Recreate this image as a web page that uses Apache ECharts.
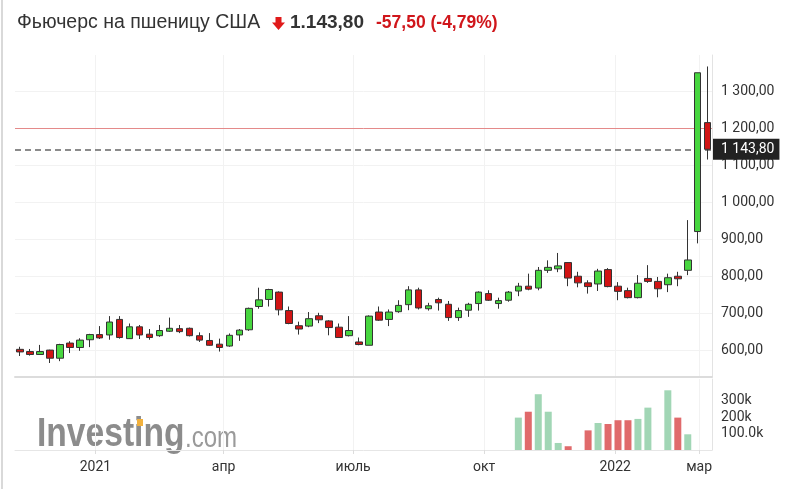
<!DOCTYPE html>
<html><head><meta charset="utf-8">
<script src="https://cdn.jsdelivr.net/npm/echarts@6/dist/echarts.min.js"></script>
<style>html,body{margin:0;padding:0;background:#fff}#c{width:793px;height:489px}</style>
</head><body><div id="c"></div>
<script>
const weeks = ['2020-11-09','2020-11-16','2020-11-23','2020-11-30','2020-12-07','2020-12-14','2020-12-21','2020-12-28',
'2021-01-04','2021-01-11','2021-01-18','2021-01-25','2021-02-01','2021-02-08','2021-02-15','2021-02-22',
'2021-03-01','2021-03-08','2021-03-15','2021-03-22','2021-03-29','2021-04-05','2021-04-12','2021-04-19','2021-04-26',
'2021-05-03','2021-05-10','2021-05-17','2021-05-24','2021-05-31','2021-06-07','2021-06-14','2021-06-21','2021-06-28',
'2021-07-05','2021-07-12','2021-07-19','2021-07-26','2021-08-02','2021-08-09','2021-08-16','2021-08-23','2021-08-30',
'2021-09-06','2021-09-13','2021-09-20','2021-09-27','2021-10-04','2021-10-11','2021-10-18','2021-10-25',
'2021-11-01','2021-11-08','2021-11-15','2021-11-22','2021-11-29','2021-12-06','2021-12-13','2021-12-20','2021-12-27',
'2022-01-03','2022-01-10','2022-01-17','2022-01-24','2022-01-31','2022-02-07','2022-02-14','2022-02-21','2022-02-28','2022-03-07'];
const opens = [602,596,588,600,578,619,607,628,642,641,683,631,663,643,639,651,658,659,639,626,616,611,641,655,718,737,757,707,666,665,693,679,662,639,622,613,703,683,704,723,763,712,737,724,688,708,726,753,726,735,760,773,768,816,820,837,800,782,779,818,773,761,742,794,786,777,800,816,921,1216];
const closes = [595,588,596,578,615,607,627,642,633,676,634,663,641,634,653,659,650,639,627,613,607,640,654,713,736,764,709,672,657,685,682,661,634,653,615,692,681,703,721,763,714,720,728,688,707,724,757,735,734,757,773,765,816,824,828,795,782,772,814,772,759,742,781,786,766,796,793,844,1351,1143.8];
const lows = [584,585,587,565,570,592,598,608,630,628,631,630,630,628,636,649,646,637,622,612,596,609,625,652,712,718,694,670,642,662,673,640,634,637,613,613,679,665,701,708,710,707,707,679,679,690,707,733,712,731,746,762,762,809,811,773,770,753,760,770,735,740,740,782,743,757,773,803,889,1116];
const highs = [609,603,614,601,617,624,632,644,665,692,692,672,668,657,668,688,668,661,648,646,631,645,657,715,769,766,759,718,677,703,701,681,672,692,634,694,718,710,735,773,769,728,742,733,715,728,759,762,742,760,782,807,825,843,863,838,812,789,820,822,784,769,803,830,798,807,812,952,1351,1368];
const volDates = ['2021-10-25','2021-11-01','2021-11-08','2021-11-15','2021-11-22','2021-11-29','2021-12-13','2021-12-20',
'2021-12-27','2022-01-03','2022-01-10','2022-01-17','2022-01-24','2022-02-07','2022-02-14','2022-02-21'];
const volValues = [198000,234000,341000,234000,43000,23000,120000,165000,159000,182000,182000,190000,259000,365000,198000,96000];
const priceTicks = [600,700,800,900,1000,1100,1200,1300];
const priceTickLabels = ['600,00','700,00','800,00','900,00','1 000,00','1 100,00','1 200,00','1 300,00'];
const volTicks = [100000,200000,300000];
const volTickLabels = ['100.0k','200k','300k'];
const dateTicks = ['2021-01-01','2021-04-01','2021-07-01','2021-10-01','2022-01-01','2022-03-01'];
const dateTickLabels = ['2021','апр','июль','окт','2022','мар'];
const lastPrice = 1143.8, lastPriceLabel = '1 143,80';
const prevClose = 1201.3;

// x positions are days since 1970-01-01 (UTC)
const toDay = d => Math.round(Date.parse(d + 'T00:00:00Z') / 86400000);
const xMin = toDay('2020-11-05') + 0.5;
const xMax = toDay('2022-03-10') + 0.02;
const dateTickDays = dateTicks.map(toDay);
const dateFmt = v => { const i = dateTickDays.indexOf(v); return i >= 0 ? dateTickLabels[i] : ''; };
const priceFmt = v => { const i = priceTicks.indexOf(v); return i >= 0 ? priceTickLabels[i] : ''; };
const volFmt = v => { const i = volTicks.indexOf(v); return i >= 0 ? volTickLabels[i] : ''; };

const candleData = weeks.map((d, i) => [toDay(d), opens[i], closes[i], lows[i], highs[i]]);
const volData = volDates.map((d, j) => {
  const i = weeks.indexOf(d);
  const up = i > 0 ? closes[i] >= closes[i - 1] : true;
  return { value: [toDay(d), volValues[j]], itemStyle: { color: up ? '#a1d6b5' : '#e06a6b' } };
});

const FONT = 'Roboto, "Liberation Sans", sans-serif';
const TFONT = '"Liberation Sans", Arial, sans-serif';
const chart = echarts.init(document.getElementById('c'), null, { renderer: 'canvas' });
chart.setOption({
  animation: false,
  backgroundColor: '#fff',
  grid: [
    { left: 15, right: 81, top: 55, height: 322, outerBoundsMode: 'none' },
    { left: 15, right: 81, top: 379, height: 71, outerBoundsMode: 'none' }
  ],
  xAxis: [
    { type: 'value', gridIndex: 0, min: xMin, max: xMax, scale: true,
      axisLine: { show: true, onZero: false, lineStyle: { color: '#dcdcdc', width: 2 } },
      axisTick: { show: false, customValues: dateTickDays },
      axisLabel: { show: false, customValues: dateTickDays },
      splitLine: { show: true, lineStyle: { color: '#f2f2f2', width: 1 } } },
    { type: 'value', gridIndex: 1, min: xMin, max: xMax, scale: true,
      axisLine: { show: true, onZero: false, lineStyle: { color: '#e6e6e6', width: 1 } },
      axisTick: { show: true, length: 4, lineStyle: { color: '#dddddd' }, customValues: dateTickDays },
      axisLabel: { show: true, customValues: dateTickDays, formatter: dateFmt, color: '#333', fontSize: 14, fontFamily: FONT, margin: 10 },
      splitLine: { show: true, lineStyle: { color: '#f2f2f2', width: 1 } } }
  ],
  yAxis: [
    { type: 'value', gridIndex: 0, position: 'right', min: 527.1, max: 1399.1, scale: true,
      axisLine: { show: true, lineStyle: { color: '#e3e3e3' } },
      axisTick: { show: false, customValues: priceTicks },
      axisLabel: { customValues: priceTicks, formatter: priceFmt, color: '#333', fontSize: 14, fontFamily: FONT, margin: 9 },
      splitLine: { show: true, lineStyle: { color: '#f2f2f2' } } },
    { type: 'value', gridIndex: 1, position: 'right', min: 0, max: 434000,
      axisLine: { show: true, lineStyle: { color: '#e3e3e3' } },
      axisTick: { show: false, customValues: volTicks },
      axisLabel: { customValues: volTicks, formatter: volFmt, color: '#333', fontSize: 14, fontFamily: FONT, margin: 9 },
      splitLine: { show: false } }
  ],
  series: [
    { type: 'candlestick', xAxisIndex: 0, yAxisIndex: 0, data: candleData,
      encode: { x: 0, y: [1, 2, 3, 4] }, barWidth: 7, z: 3,
      itemStyle: { color: '#47d63f', color0: '#d11414', borderColor: '#333333', borderColor0: '#333333', borderWidth: 1 },
      markLine: { symbol: 'none', silent: true, animation: false, z: 2,
        data: [
          { yAxis: prevClose, lineStyle: { color: '#e48a8a', width: 1, type: 'solid' }, label: { show: false } },
          { yAxis: lastPrice, lineStyle: { color: '#666', width: 1.5, type: [6, 4] },
            label: { show: true, position: 'end', distance: 1, formatter: lastPriceLabel, backgroundColor: '#222', color: '#fff',
              padding: [3, 5, 2, 8], fontSize: 14, lineHeight: 16, fontFamily: FONT } }
        ] } },
    { type: 'bar', xAxisIndex: 1, yAxisIndex: 1, data: volData, barWidth: 7, z: 3 }
  ],
  graphic: [
    { type: 'line', shape: { x1: 2, y1: 0, x2: 2, y2: 489 }, style: { stroke: '#cccccc', lineWidth: 1.5 }, z: 10 },
    { type: 'text', x: 17, y: 23, style: { text: 'Фьючерс на пшеницу США', fontSize: 19.5, fontFamily: TFONT, fill: '#333', verticalAlign: 'middle' } },
    { type: 'polygon', shape: { points: [[275.5,17],[281.5,17],[281.5,22.5],[285,22.5],[278.5,30],[272,22.5],[275.5,22.5]] }, style: { fill: '#e01a1a' } },
    { type: 'text', x: 290, y: 23, style: { text: '1.143,80', fontSize: 19, fontWeight: 'bold', fontFamily: TFONT, fill: '#333', verticalAlign: 'middle' } },
    { type: 'text', x: 376, y: 23, style: { text: '-57,50 (-4,79%)', fontSize: 17.5, fontWeight: 'bold', fontFamily: TFONT, fill: '#d0161b', verticalAlign: 'middle' } },
    { type: 'text', x: 37, y: 435, scaleX: 0.84, z: 0, style: { text: 'Investing', fontSize: 40, fontWeight: 'bold', fontFamily: TFONT, fill: '#8c8c8c', verticalAlign: 'middle' } },
    { type: 'text', x: 185, y: 439, scaleX: 0.83, z: 0, style: { text: '.com', fontSize: 29, fontFamily: TFONT, fill: '#9a9a9a', verticalAlign: 'middle' } },
    { type: 'rect', shape: { x: 137, y: 419, width: 6, height: 7 }, style: { fill: '#f2b13d' }, z: 1 }
  ]
});
</script></body></html>
